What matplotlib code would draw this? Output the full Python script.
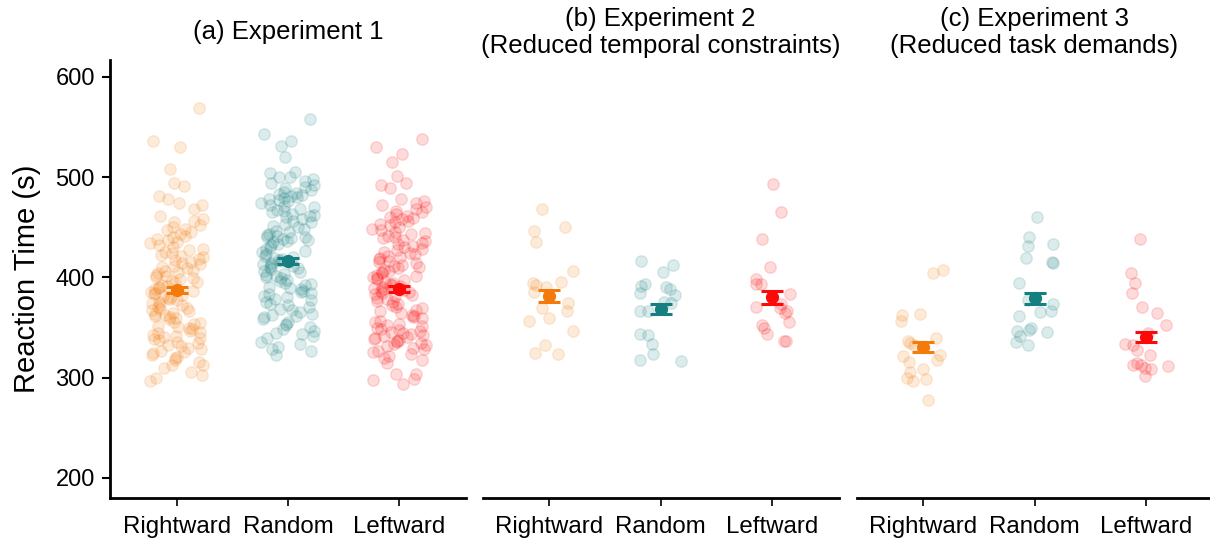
import numpy as np
import matplotlib
matplotlib.use("Agg")
import matplotlib.pyplot as plt

plt.rcParams['font.family'] = ['Liberation Sans', 'DejaVu Sans']

conditions = ["Rightward", "Random", "Leftward"]
colors = ["#f57a0c", "#177f7f", "#fc0a0a"]
titles = ["(a) Experiment 1",
          "(b) Experiment 2\n(Reduced temporal constraints)",
          "(c) Experiment 3\n(Reduced task demands)"]

# experiment 1, individual reaction times
exp1_right = [569, 536, 530, 508, 494, 491, 481, 478, 474, 472, 468, 461,
              458, 456, 455, 452, 450, 448, 447, 445, 443, 441, 440,
              438, 437, 435, 434, 432, 430, 428, 427, 425, 424, 422, 421, 420,
              418, 417, 415, 414, 413, 411, 410, 409, 407, 406, 405, 404, 402, 401, 400,
              399, 398, 396, 395, 394, 392, 391, 390, 389, 388, 386, 385, 384, 383, 382, 381, 380,
              379, 378, 377, 375, 374, 373, 372, 370, 369, 368, 367, 366, 364, 363, 362, 361, 360,
              359, 358, 356, 355, 354, 352, 351, 350, 349, 347, 346, 345, 343, 342, 341, 340,
              339, 338, 336, 335, 333, 332, 330, 329, 327, 326, 325, 323, 321, 320,
              318, 316, 313, 313, 310, 306, 303, 300, 297]
exp1_random = [558, 543, 536, 531, 520, 505, 504, 500, 500,
               498, 496, 494, 492, 490, 489, 487, 485, 484, 483, 482, 481, 480,
               479, 478, 477, 476, 474, 472, 471, 470, 468, 467, 466, 465, 463, 462, 461, 460,
               458, 456, 455, 453, 451, 450, 448, 446, 445, 443, 442, 441, 440, 440, 439, 438, 437,
               436, 435, 433, 432, 430, 428, 426, 425, 423, 421, 420,
               419, 418, 417, 416, 415, 414, 413, 412, 411, 410, 409, 408, 406, 405, 403, 402, 401, 400,
               399, 397, 396, 394, 393, 392, 390, 389, 388, 386, 385, 384, 383, 381, 380,
               378, 377, 375, 373, 372, 370, 368, 367, 365, 363, 362, 361, 360,
               358, 356, 354, 353, 351, 349, 347, 345, 344, 342, 340,
               336, 334, 331, 329, 327, 323]
exp1_left = [538, 530, 523, 515, 501, 494, 492, 489,
             478, 476, 474, 472, 470, 468, 466, 465, 463, 461, 460,
             459, 458, 456, 455, 453, 452, 450, 448, 447, 445, 444, 443, 441, 440,
             439, 437, 436, 434, 433, 431, 430, 428, 427, 425, 424, 423, 421, 420,
             419, 418, 416, 415, 414, 412, 411, 410, 409, 407, 406, 405, 404, 402, 401, 400,
             399, 398, 397, 395, 394, 393, 392, 391, 390, 389, 388, 387, 386, 385, 384, 383, 382, 381,
             379, 378, 376, 375, 373, 372, 370, 369, 367, 366, 364, 362, 361, 360,
             359, 357, 356, 354, 353, 352, 350, 349, 348, 347, 346, 345, 344, 343, 342, 341, 340,
             339, 338, 337, 336, 335, 334, 333, 332, 330, 329, 327, 326, 324, 322, 320,
             318, 315, 304, 304, 299, 298, 294]

# experiments 2 and 3: values and horizontal offsets as seen in the picture
exp2_right = [468, 446, 450, 435, 406, 394, 392, 385, 390, 395, 374, 366, 369, 357, 359, 347, 333, 325, 324]
exp2_right_dx = [-0.07, -0.14, 0.14, -0.12, 0.21, -0.15, -0.12, -0.14, -0.03, 0.10,
                 0.17, 0.16, -0.07, -0.18, 0.0, 0.21, -0.04, -0.13, 0.08]
exp2_random = [416, 412, 405, 393, 391, 384, 390, 388, 382, 375, 374, 366, 366, 344, 343, 334, 324, 318, 317]
exp2_random_dx = [-0.18, 0.11, 0.02, -0.14, -0.18, -0.19, 0.05, 0.08, 0.13, 0.03,
                  0.09, -0.19, -0.11, -0.19, -0.11, -0.08, -0.07, -0.19, 0.18]
exp2_left = [493, 465, 438, 410, 398, 393, 393, 383, 373, 369, 366, 364, 370, 356, 353, 350, 344, 337, 337]
exp2_left_dx = [0.01, 0.08, -0.09, -0.02, -0.14, -0.14, -0.10, 0.16, 0.08, 0.07,
                0.14, 0.12, -0.14, 0.15, -0.09, -0.07, -0.04, 0.11, 0.13]

exp3_right = [407, 404, 362, 357, 363, 340, 337, 335, 333, 323, 322, 318, 316, 309, 306, 300, 297, 299, 278]
exp3_right_dx = [0.18, 0.09, -0.19, -0.20, -0.03, 0.11, -0.14, -0.12, -0.08, 0.15,
                 -0.18, 0.12, -0.13, 0.0, -0.12, -0.15, -0.09, 0.02, 0.04]
exp3_random = [460, 440, 431, 433, 419, 415, 414, 394, 377, 373, 365, 366, 361, 350, 348, 347, 342, 346, 336, 333]
exp3_random_dx = [0.02, -0.05, -0.06, 0.17, -0.08, 0.16, 0.17, -0.14, -0.06, 0.17,
                  0.05, 0.15, -0.14, -0.03, -0.05, -0.16, -0.13, 0.11, -0.17, -0.06]
exp3_left = [438, 404, 394, 384, 370, 364, 353, 345, 334, 333, 328, 323, 312, 313, 315, 313, 310, 309, 302]
exp3_left_dx = [-0.05, -0.13, -0.10, -0.12, -0.03, 0.10, 0.18, 0.02, -0.19, -0.11,
                -0.08, 0.04, 0.20, -0.11, -0.08, -0.04, -0.01, 0.05, -0.01]

# means and standard errors shown by the dark markers
means = [[387, 416, 388], [381, 368, 380], [331, 379, 341]]
errors = [[3, 3, 3], [6, 5, 6.5], [5, 5.5, 5]]


def hash_jitter(n, half_width=0.24):
    ''' deterministic scattered horizontal offsets for the big groups '''
    h = (np.sin(np.arange(1, n + 1) * 12.9898) * 43758.5453) % 1
    return (h - 0.5) * 2 * half_width


exp1 = [(v, hash_jitter(len(v))) for v in (exp1_right, exp1_random, exp1_left)]
exp2 = [(exp2_right, exp2_right_dx), (exp2_random, exp2_random_dx), (exp2_left, exp2_left_dx)]
exp3 = [(exp3_right, exp3_right_dx), (exp3_random, exp3_random_dx), (exp3_left, exp3_left_dx)]
experiments = [exp1, exp2, exp3]

fig = plt.figure(figsize=(12.1, 5.41), dpi=100)
lefts = [0.091, 0.399, 0.708]
width = 0.294
axes = [fig.add_axes([l, 0.0795, width, 0.81]) for l in lefts]

for k, ax in enumerate(axes):
    for i, (vals, dx) in enumerate(experiments[k]):
        x = i + 1 + np.asarray(dx)
        ax.scatter(x, vals, s=68, color=colors[i], alpha=0.15, linewidths=1.0, zorder=2)
        ax.errorbar(i + 1, means[k][i], yerr=errors[k][i], fmt='o', color=colors[i],
                    markersize=8.5, elinewidth=2.2, capsize=8, capthick=2.2, zorder=3)
    ax.set_xlim(0.4, 3.6)
    ax.set_ylim(180, 617)
    ax.set_xticks([1, 2, 3])
    ax.set_xticklabels(conditions, fontsize=17.3)
    # titles are centred on one common line above the panels
    fig.text(lefts[k] + width / 2, 1 - 32.5 / 541, titles[k], fontsize=18.5,
             ha='center', va='center', linespacing=1.13)
    for side in ['top', 'right']:
        ax.spines[side].set_visible(False)
    ax.spines['bottom'].set_linewidth(2)
    ax.tick_params(axis='x', length=6, width=1.2, pad=7)
    if k == 0:
        ax.spines['left'].set_linewidth(2)
        ax.set_yticks([200, 300, 400, 500, 600])
        ax.tick_params(axis='y', labelsize=17, length=6, width=1.5, pad=5)
        ax.set_ylabel("Reaction Time (s)", fontsize=21, labelpad=10)
    else:
        ax.spines['left'].set_visible(False)
        ax.set_yticks([])

fig.savefig("out.png", dpi=100)
